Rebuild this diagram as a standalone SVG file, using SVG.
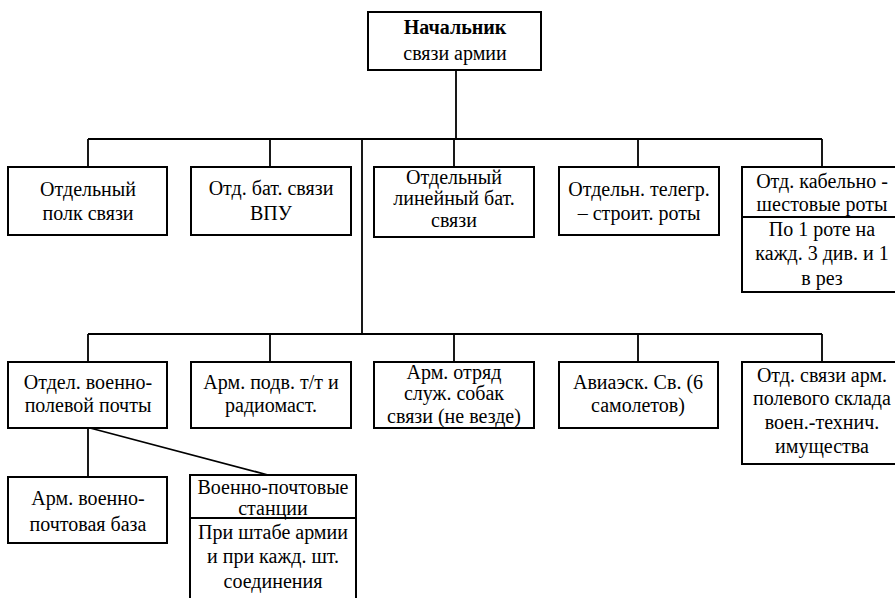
<svg xmlns="http://www.w3.org/2000/svg" width="895" height="598" viewBox="0 0 895 598" font-family="Liberation Serif, Times New Roman, serif">
<style>
.box{fill:#fff;stroke:#000;stroke-width:2}
.ln{fill:none;stroke:#000;stroke-width:1.8}
text{font-size:20px;fill:#000;text-anchor:middle}
</style>
<rect width="895" height="598" fill="#fff"/>
<g id="connectors">
<path class="ln" d="M456,70V139M88,139H822M88,139V167M270,139V167M454,139V167M638,139V167M822,139V167M362,139V334M88,334H822M88,334V362M270,334V362M454,334V362M638,334V362M822,334V362M88,428V477M90,428L268,475"/>
</g>
<g id="n0"><rect class="box" x="368" y="12" width="173" height="58"/><text x="455" y="34" font-weight="bold">Начальник</text><text x="455" y="60">связи армии</text></g>
<g id="n1"><rect class="box" x="8" y="167" width="159" height="68"/><text x="88" y="196">Отдельный</text><text x="88" y="220">полк связи</text></g>
<g id="n2"><rect class="box" x="191" y="167" width="160" height="68"/><text x="271" y="195">Отд. бат. связи</text><text x="271" y="220">ВПУ</text></g>
<g id="n3"><rect class="box" x="374" y="167" width="160" height="70"/><text x="454" y="184">Отдельный</text><text x="454" y="205">линейный бат.</text><text x="454" y="227">связи</text></g>
<g id="n4"><rect class="box" x="559" y="167" width="160" height="68"/><text x="639" y="196">Отдельн. телегр.</text><text x="639" y="220">– строит. роты</text></g>
<g id="n5"><rect class="box" x="742" y="167" width="160" height="125"/><line class="ln" x1="742" y1="217" x2="902" y2="217"/><text x="822" y="188">Отд. кабельно -</text><text x="822" y="211">шестовые роты</text><text x="822" y="236">По 1 роте на</text><text x="822" y="260">кажд. 3 див. и 1</text><text x="822" y="285">в рез</text></g>
<g id="n6"><rect class="box" x="8" y="362" width="159" height="66"/><text x="88" y="389">Отдел. военно-</text><text x="88" y="412">полевой почты</text></g>
<g id="n7"><rect class="box" x="191" y="362" width="160" height="66"/><text x="271" y="389">Арм. подв. т/т и</text><text x="271" y="412">радиомаст.</text></g>
<g id="n8"><rect class="box" x="374" y="362" width="160" height="66"/><text x="454" y="379">Арм. отряд</text><text x="454" y="400">служ. собак</text><text x="454" y="423">связи (не везде)</text></g>
<g id="n9"><rect class="box" x="559" y="362" width="159" height="66"/><text x="638" y="389">Авиаэск. Св. (6</text><text x="638" y="412">самолетов)</text></g>
<g id="n10"><rect class="box" x="742" y="362" width="160" height="102"/><text x="822" y="382">Отд. связи арм.</text><text x="822" y="405">полевого склада</text><text x="822" y="429">воен.-технич.</text><text x="822" y="453">имущества</text></g>
<g id="n11"><rect class="box" x="8" y="477" width="159" height="66"/><text x="88" y="505">Арм. военно-</text><text x="88" y="531">почтовая база</text></g>
<g id="n12"><rect class="box" x="190" y="475" width="166" height="130"/><line class="ln" x1="190" y1="518" x2="356" y2="518"/><text x="273" y="494">Военно-почтовые</text><text x="273" y="515">станции</text><text x="273" y="539">При штабе армии</text><text x="273" y="563">и при кажд. шт.</text><text x="273" y="588">соединения</text></g>
</svg>
